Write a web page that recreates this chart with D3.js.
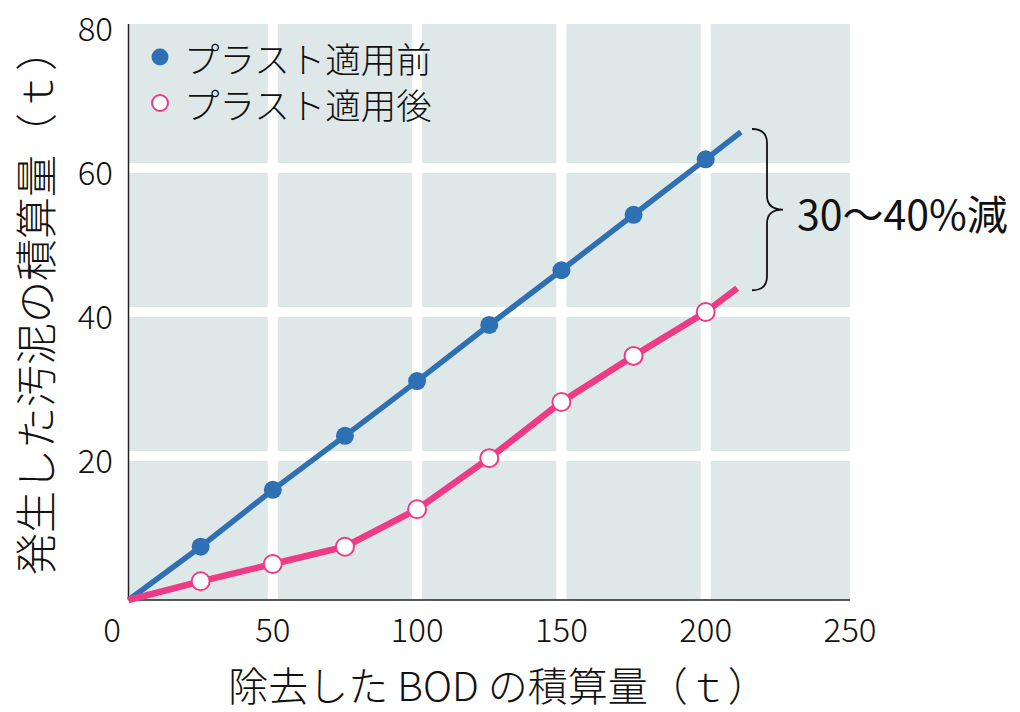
<!DOCTYPE html>
<html><head><meta charset="utf-8">
<script src="https://cdn.jsdelivr.net/npm/d3@7"></script>
<style>
html,body{margin:0;padding:0;background:#fff;}
svg{display:block;font-family:"Noto Sans CJK JP","Noto Sans",sans-serif;}
</style></head>
<body><svg id="chart" width="1020" height="712"></svg>
<script>
// ---- data ----
const bodX = [25, 50, 75, 100, 125, 150, 175, 200];
const sludgeBefore = [7.4, 15.3, 22.8, 30.4, 38.2, 45.8, 53.5, 61.2];
const sludgeAfter = [2.6, 5.0, 7.4, 12.6, 19.7, 27.5, 33.9, 40.0];
const origin = [0, 0];
const beforeLineEnd = [212.2, 65.0];
const afterLineEnd = [210.9, 43.3];
const xTicks = [0, 50, 100, 150, 200, 250];
const yTicks = [20, 40, 60, 80];
const seriesNames = ["プラスト適用前", "プラスト適用後"];
const xTitle = "除去した BOD の積算量（ｔ）";
const yTitle = "発生した汚泥の積算量（ｔ）";
const annotation = "30～40%減";

const BLUE = "#2f6fb3", PINK = "#ef3b85", BG = "#dfe8e8";
const svg = d3.select("#chart");
const L = 128.5, R = 850, T = 24, B = 600;
const x = d3.scaleLinear().domain([0, 250]).range([L, R]);
const y = d3.scaleLinear().domain([0, 80]).range([B, T]);

svg.append("rect").attr("x", L).attr("y", T).attr("width", R - L).attr("height", B - T).attr("fill", BG);

// grid
svg.append("g").selectAll("line").data(xTicks.filter(d => d > 0 && d < 250)).join("line")
  .attr("x1", d => x(d)).attr("x2", d => x(d)).attr("y1", T).attr("y2", B)
  .attr("stroke", "#fff").attr("stroke-width", 10);
svg.append("g").selectAll("line").data(yTicks.filter(d => d < 80)).join("line")
  .attr("y1", d => y(d)).attr("y2", d => y(d)).attr("x1", L).attr("x2", R)
  .attr("stroke", "#fff").attr("stroke-width", 10);

// axes lines
svg.append("line").attr("x1", L).attr("x2", L).attr("y1", T).attr("y2", B).attr("stroke", "#222").attr("stroke-width", 1.5);
svg.append("line").attr("x1", L).attr("x2", R).attr("y1", B).attr("y2", B).attr("stroke", "#222").attr("stroke-width", 1.5);

// tick labels
svg.append("g").selectAll("text").data(yTicks).join("text")
  .attr("x", 113).attr("y", d => y(d) + 3).attr("text-anchor", "end").attr("dominant-baseline", "central")
  .attr("font-size", 33).attr("font-weight", 300).attr("fill", "#111").text(d => d);
svg.append("g").selectAll("text").data(xTicks).join("text")
  .attr("x", d => d === 0 ? 112 : x(d)).attr("y", 628).attr("text-anchor", "middle").attr("dominant-baseline", "central")
  .attr("font-size", 33).attr("font-weight", 300).attr("fill", "#111").text(d => d);

// titles
svg.append("text").attr("x", 498).attr("y", 684).attr("text-anchor", "middle").attr("dominant-baseline", "central")
  .attr("font-size", 40).attr("font-weight", 300).attr("fill", "#111").text(xTitle);
svg.append("text").attr("transform", "translate(33,302) rotate(-90)").attr("text-anchor", "middle").attr("dominant-baseline", "central")
  .attr("font-size", 42).attr("font-weight", 300).attr("fill", "#111").text(yTitle);

// lines
const line = d3.line().x(d => x(d[0])).y(d => y(d[1]));
const beforePts = [origin, ...bodX.map((d, i) => [d, sludgeBefore[i]]), beforeLineEnd];
const afterPts = [origin, ...bodX.map((d, i) => [d, sludgeAfter[i]]), afterLineEnd];
svg.append("path").attr("d", line(beforePts)).attr("fill", "none").attr("stroke", BLUE).attr("stroke-width", 5.5);
svg.append("path").attr("d", line(afterPts)).attr("fill", "none").attr("stroke", PINK).attr("stroke-width", 6.5);

svg.append("g").selectAll("circle").data(bodX).join("circle")
  .attr("cx", d => x(d)).attr("cy", (d, i) => y(sludgeBefore[i])).attr("r", 9).attr("fill", BLUE);
svg.append("g").selectAll("circle").data(bodX).join("circle")
  .attr("cx", d => x(d)).attr("cy", (d, i) => y(sludgeAfter[i])).attr("r", 9)
  .attr("fill", "#fff").attr("stroke", PINK).attr("stroke-width", 2);

// legend
svg.append("circle").attr("cx", 160).attr("cy", 57).attr("r", 8.5).attr("fill", BLUE);
svg.append("circle").attr("cx", 160).attr("cy", 103).attr("r", 8).attr("fill", "#fff").attr("stroke", PINK).attr("stroke-width", 2);
svg.append("g").selectAll("text").data(seriesNames).join("text")
  .attr("x", 184).attr("y", (d, i) => 57 + i * 46).attr("dominant-baseline", "central")
  .attr("font-size", 35.5).attr("font-weight", 300).attr("fill", "#111").text(d => d);

// brace
const y0 = y(beforeLineEnd[1]) - 3, y1 = y(afterLineEnd[1]) + 2, ym = (y0 + y1) / 2;
const bx0 = 752, bx1 = 767, bx2 = 783, r = 14;
svg.append("path").attr("d",
  `M${bx0},${y0} Q${bx1},${y0} ${bx1},${y0 + r} L${bx1},${ym - r} Q${bx1},${ym} ${bx2},${ym} Q${bx1},${ym} ${bx1},${ym + r} L${bx1},${y1 - r} Q${bx1},${y1} ${bx0},${y1}`)
  .attr("fill", "none").attr("stroke", "#111").attr("stroke-width", 1.8);
svg.append("text").attr("x", 797).attr("y", 212).attr("dominant-baseline", "central")
  .attr("font-size", 41).attr("font-weight", 400).attr("fill", "#111").text(annotation);
</script></body></html>
